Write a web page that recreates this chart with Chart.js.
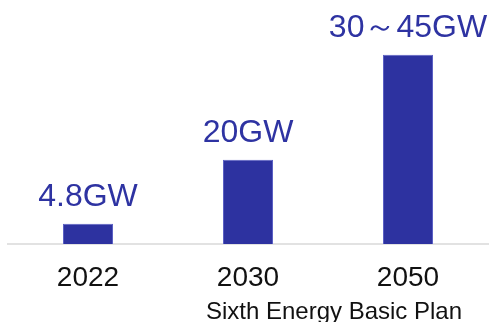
<!DOCTYPE html>
<html>
<head>
<meta charset="utf-8">
<script src="https://cdn.jsdelivr.net/npm/chart.js@4/dist/chart.umd.min.js"></script>
<style>
  html, body { margin: 0; padding: 0; background: #fff; }
  #wrap { width: 492px; height: 322px; }
</style>
</head>
<body>
<div id="wrap"><canvas id="c" width="492" height="322"></canvas></div>
<script>
// Installed capacity targets (GW)
const years = ['2022', '2030', '2050'];
const capacityGW = [4.8, 20, 45];
const capacityLowGW = [null, null, 30];   // lower bound where a range is given
const planNote = 'Sixth Energy Basic Plan';
const planYears = ['2030', '2050'];

const barColor = '#2d32a0';
const labelColor = '#2e33a2';
const fontFamily = '"Liberation Sans", Arial, sans-serif';

const valueLabels = capacityGW.map((v, i) =>
  (capacityLowGW[i] != null ? capacityLowGW[i] + '～' : '') + v + 'GW');

const valueLabelPlugin = {
  id: 'valueLabels',
  afterDatasetsDraw(chart) {
    const ctx = chart.ctx;
    const meta = chart.getDatasetMeta(0);
    ctx.save();
    ctx.font = '32px ' + fontFamily;
    ctx.fillStyle = labelColor;
    ctx.textAlign = 'center';
    ctx.textBaseline = 'alphabetic';
    meta.data.forEach((bar, i) => {
      ctx.fillText(valueLabels[i], bar.x, bar.y - 18);
    });
    ctx.restore();
  }
};

const planNotePlugin = {
  id: 'planNote',
  afterDraw(chart) {
    const x = chart.scales.x;
    const a = x.getPixelForValue(years.indexOf(planYears[0]));
    const b = x.getPixelForValue(years.indexOf(planYears[1]));
    const ctx = chart.ctx;
    ctx.save();
    ctx.font = '24px ' + fontFamily;
    ctx.fillStyle = '#111';
    ctx.textAlign = 'center';
    ctx.textBaseline = 'alphabetic';
    ctx.fillText(planNote, (a + b) / 2 + 6, 319);
    ctx.restore();
  }
};

new Chart(document.getElementById('c'), {
  type: 'bar',
  data: {
    labels: years,
    datasets: [{
      data: capacityGW,
      backgroundColor: barColor,
      borderColor: '#5b60c4',
      borderWidth: 1,
      categoryPercentage: 1,
      barPercentage: 0.3125
    }]
  },
  options: {
    responsive: false,
    animation: false,
    events: [],
    layout: { padding: { left: 8, right: 4, top: 0, bottom: 0 } },
    plugins: { legend: { display: false }, tooltip: { enabled: false } },
    scales: {
      x: {
        grid: { display: false },
        border: { display: true, color: '#e2e2e2', width: 2 },
        ticks: {
          color: '#111',
          font: { family: fontFamily, size: 28 },
          padding: 9,
          maxRotation: 0
        },
        afterFit(scale) { scale.height = 78; }
      },
      y: {
        display: false,
        min: 0,
        max: 58
      }
    }
  },
  plugins: [valueLabelPlugin, planNotePlugin]
});
</script>
</body>
</html>
